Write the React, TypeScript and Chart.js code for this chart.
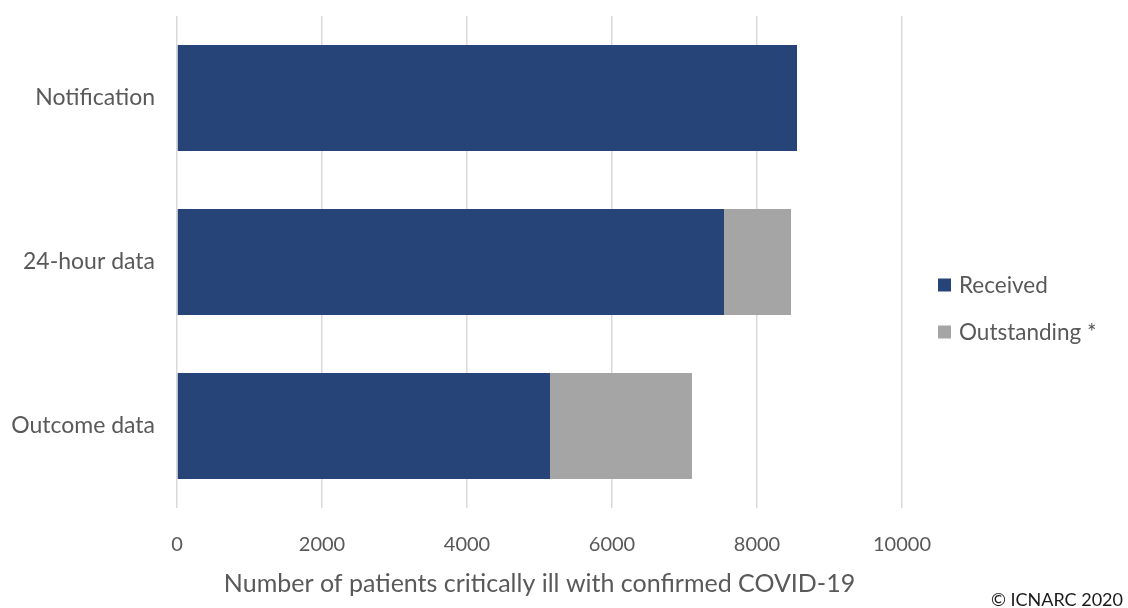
import React, { useEffect, useRef } from "react";
import { Chart, registerables } from "chart.js";

Chart.register(...registerables);

const categories = ["Notification", "24-hour data", "Outcome data"];
const received = [8552, 7545, 5145];
const outstanding = [0, 924, 1958];
const seriesNames = ["Received", "Outstanding *"];
const seriesColors = ["#264478", "#A5A5A5"];
const xMin = 0;
const xMax = 10000;
const xStep = 2000;
const xTitle = "Number of patients critically ill with confirmed COVID-19";
const copyright = "\u00A9 ICNARC 2020";

const FONT = "Lato, 'Open Sans', sans-serif";
const TEXT = "#595959";

const overlayPlugin = {
  id: "overlay",
  afterDraw(chart: any) {
    const ctx = chart.ctx as CanvasRenderingContext2D;
    ctx.save();
    // legend
    const rows = [285, 332];
    chart.data.datasets.forEach((ds: any, i: number) => {
      const y = rows[i];
      ctx.fillStyle = ds.backgroundColor;
      ctx.fillRect(938, y - 6.5, 13, 13);
      ctx.fillStyle = TEXT;
      ctx.font = `22.5px ${FONT}`;
      ctx.textAlign = "left";
      ctx.textBaseline = "middle";
      ctx.fillText(ds.label, 959, y + 1);
    });
    // copyright
    ctx.fillStyle = "#1a1a1a";
    ctx.font = `18px ${FONT}`;
    ctx.textAlign = "right";
    ctx.textBaseline = "alphabetic";
    ctx.fillText(copyright, 1123, 606);
    ctx.restore();
  },
};

export default function App() {
  const canvasRef = useRef<HTMLCanvasElement | null>(null);

  useEffect(() => {
    if (!canvasRef.current) return;
    const chart = new Chart(canvasRef.current, {
      type: "bar",
      data: {
        labels: categories,
        datasets: [
          {
            label: seriesNames[0],
            data: received,
            backgroundColor: seriesColors[0],
            borderWidth: 0,
          },
          {
            label: seriesNames[1],
            data: outstanding,
            backgroundColor: seriesColors[1],
            borderWidth: 0,
          },
        ],
      },
      options: {
        indexAxis: "y",
        animation: false,
        responsive: true,
        maintainAspectRatio: false,
        devicePixelRatio: 1,
        layout: { padding: { top: 16, right: 226, bottom: 0, left: 0 } },
        datasets: {
          bar: { categoryPercentage: 1, barPercentage: 0.646 },
        },
        plugins: {
          legend: { display: false },
          tooltip: { enabled: false },
        },
        scales: {
          x: {
            stacked: true,
            min: xMin,
            max: xMax,
            ticks: {
              stepSize: xStep,
              color: TEXT,
              font: { family: FONT, size: 20 },
              padding: 25,
              maxRotation: 0,
              callback: (v: any) => String(v),
            },
            grid: { color: "#D9D9D9", lineWidth: 1.5, drawTicks: false },
            border: { display: false },
            title: {
              display: true,
              text: xTitle,
              color: TEXT,
              font: { family: FONT, size: 25 },
              padding: { top: 0, bottom: 9 },
            },
            afterFit(scale: any) {
              scale.height = 100;
              scale.paddingLeft = 0;
              scale.paddingRight = 0;
            },
          },
          y: {
            stacked: true,
            ticks: {
              color: TEXT,
              font: { family: FONT, size: 23 },
              padding: 22,
            },
            grid: { display: false, drawTicks: false },
            border: { display: false },
            afterFit(scale: any) {
              scale.width = 177;
              scale.paddingTop = 0;
              scale.paddingBottom = 0;
            },
          },
        },
      },
      plugins: [overlayPlugin],
    } as any);
    return () => chart.destroy();
  }, []);

  return (
    <div style={{ position: "fixed", left: 0, top: 0, width: 1128, height: 608, background: "#fff" }}>
      <canvas ref={canvasRef} />
    </div>
  );
}
